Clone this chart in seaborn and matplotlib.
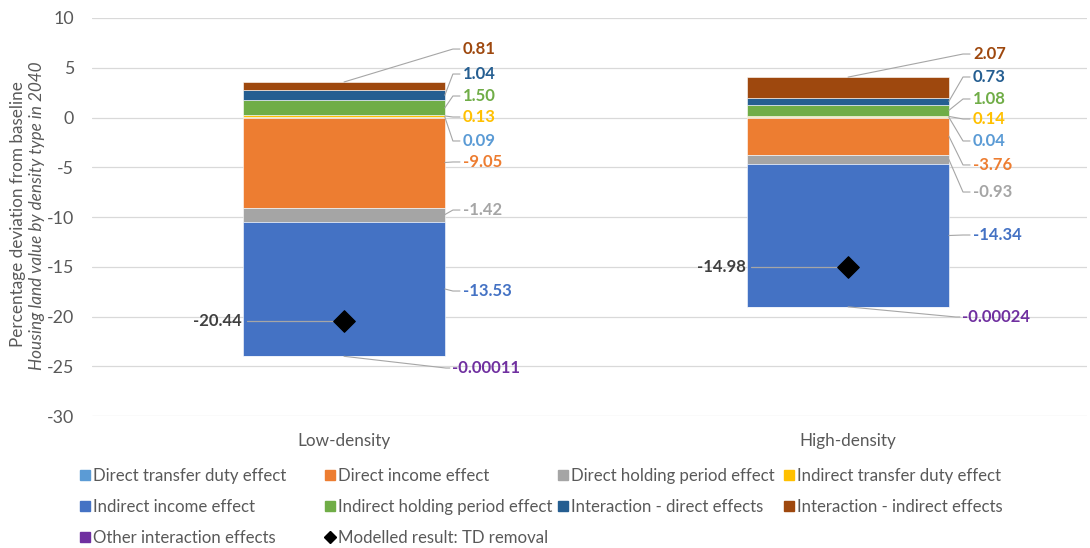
import numpy as np
import matplotlib
matplotlib.use("Agg")
import matplotlib.pyplot as plt
from matplotlib.lines import Line2D
import seaborn as sns

# ---- data ----
categories = ["Low-density", "High-density"]
series_names = [
    "Direct transfer duty effect",
    "Direct income effect",
    "Direct holding period effect",
    "Indirect transfer duty effect",
    "Indirect income effect",
    "Indirect holding period effect",
    "Interaction - direct effects",
    "Interaction - indirect effects",
    "Other interaction effects",
]
direct_transfer_duty = [0.09, 0.04]
direct_income = [-9.05, -3.76]
direct_holding_period = [-1.42, -0.93]
indirect_transfer_duty = [0.13, 0.14]
indirect_income = [-13.53, -14.34]
indirect_holding_period = [1.50, 1.08]
interaction_direct = [1.04, 0.73]
interaction_indirect = [0.81, 2.07]
other_interaction = [-0.00011, -0.00024]
modelled_result = [-20.44, -14.98]
modelled_name = "Modelled result: TD removal"

series_values = [
    direct_transfer_duty, direct_income, direct_holding_period,
    indirect_transfer_duty, indirect_income, indirect_holding_period,
    interaction_direct, interaction_indirect, other_interaction,
]

# ---- styling ----
colors = ["#5B9BD5", "#ED7D31", "#A5A5A5", "#FFC000", "#4472C4",
          "#70AD47", "#255E91", "#9E480E", "#7030A0"]
label_y = [  # vertical position of each data label, per category
    [-2.36, -2.36],
    [-4.47, -4.77],
    [-9.30, -7.49],
    [0.05, -0.15],
    [-17.44, -11.81],
    [2.16, 1.86],
    [4.37, 4.07],
    [6.88, 6.38],
    [-25.18, -20.05],
]
label_dx = [0.236, 0.248]
bar_width = 0.4
leader_color = "#A6A6A6"
text_grey = "#595959"
label_size = 12
text_size = 12.3
legend_size = 12.1

sns.set_theme(style="white")
plt.rcParams["font.family"] = ["Lato", "DejaVu Sans"]
plt.rcParams["axes.unicode_minus"] = False

fig = plt.figure(figsize=(10.9, 5.48), dpi=100)
ax = fig.add_axes([92 / 1090, 1 - 416 / 548, 995 / 1090, 398 / 548])

pos = np.arange(len(categories))
pos_base = np.zeros(len(categories))
neg_base = np.zeros(len(categories))
bottoms, tops = [], []
for name, vals, col in zip(series_names, series_values, colors):
    vals = np.asarray(vals, dtype=float)
    base = np.where(vals >= 0, pos_base, neg_base)
    sns.barplot(x=pos, y=vals, bottom=base, width=bar_width, color=col,
                saturation=1, order=pos, native_scale=False,
                edgecolor="white", linewidth=0.4, ax=ax, zorder=2)
    bottoms.append(base.copy())
    tops.append(base + vals)
    pos_base = np.where(vals >= 0, pos_base + vals, pos_base)
    neg_base = np.where(vals < 0, neg_base + vals, neg_base)

# data labels with leader lines
n_series = len(series_names)
for i in range(n_series):
    for j, c in enumerate(pos):
        v = series_values[i][j]
        txt = f"{v:.2f}" if abs(v) >= 0.005 else f"{v:.5f}"
        ly = label_y[i][j]
        if i == n_series - 1:
            lx = c + label_dx[j] - 0.022
            ax.plot([c, lx - 0.012, lx - 0.004], [neg_base[j], ly, ly],
                    color=leader_color, lw=0.8, zorder=3)
        elif i == 7:
            lx = c + label_dx[j]
            ax.plot([c, lx - 0.02, lx - 0.006], [tops[i][j], ly, ly],
                    color=leader_color, lw=0.8, zorder=3)
        else:
            lx = c + label_dx[j]
            mid = (bottoms[i][j] + tops[i][j]) / 2
            ax.plot([c + bar_width / 2, lx - 0.02, lx - 0.006], [mid, ly, ly],
                    color=leader_color, lw=0.8, zorder=3)
        ax.text(lx, ly, txt, color=colors[i], fontsize=label_size,
                fontweight="bold", ha="left", va="center", zorder=4)

# modelled total
for j, c in enumerate(pos):
    v = modelled_result[j]
    ax.plot([c - bar_width / 2 + 0.008, c], [v, v], color=leader_color,
            lw=0.9, zorder=3)
    ax.text(c - bar_width / 2 - 0.002, v, f"{v:.2f}", color="#404040",
            fontsize=label_size, fontweight="bold", ha="right", va="center",
            zorder=4)
sns.scatterplot(x=pos, y=modelled_result, marker="D", color="black", s=120,
                edgecolor="black", ax=ax, zorder=5, legend=False)

ax.set_xlim(-0.5, 1.474)
ax.set_ylim(-30, 10)
ax.set_yticks(np.arange(-30, 11, 5))
ax.set_xticks(pos)
ax.set_xticklabels(categories)
ax.tick_params(axis="both", length=0, labelsize=text_size,
               labelcolor=text_grey)
ax.tick_params(axis="y", labelsize=12.8, pad=13)
ax.tick_params(axis="x", pad=12)
ax.yaxis.grid(True, color="#D9D9D9", lw=0.9, zorder=0)
ax.set_axisbelow(True)
ax.set_xlabel("")
ax.set_ylabel("")
for s in ax.spines.values():
    s.set_visible(False)

fig.text(18 / 1090, 1 - 214 / 548, "Percentage deviation from baseline",
         rotation=90, ha="center", va="center", fontsize=text_size,
         color=text_grey)
fig.text(37 / 1090, 1 - 216 / 548, "Housing land value by density type in 2040",
         rotation=90, ha="center", va="center", fontsize=text_size,
         color=text_grey, style="italic")

# legend: four columns, filled row by row
handles = [Line2D([], [], marker="s", linestyle="", markersize=7.5, color=c)
           for c in colors]
handles.append(Line2D([], [], marker="D", linestyle="", markersize=6,
                      color="black"))
labels = series_names + [modelled_name]
legend_cols = [[0, 4, 8], [1, 5, 9], [2, 6], [3, 7]]
legend_x = [80, 325, 558, 784]
for col_items, x0 in zip(legend_cols, legend_x):
    fig.legend([handles[k] for k in col_items],
               [labels[k] for k in col_items],
               loc="upper left", bbox_to_anchor=(x0 / 1090, 1 - 468 / 548),
               frameon=False, fontsize=legend_size, labelcolor=text_grey,
               handlelength=0.6, handletextpad=0.2,
               labelspacing=0.88, borderpad=0, borderaxespad=0)

fig.savefig("out.png", dpi=100)
